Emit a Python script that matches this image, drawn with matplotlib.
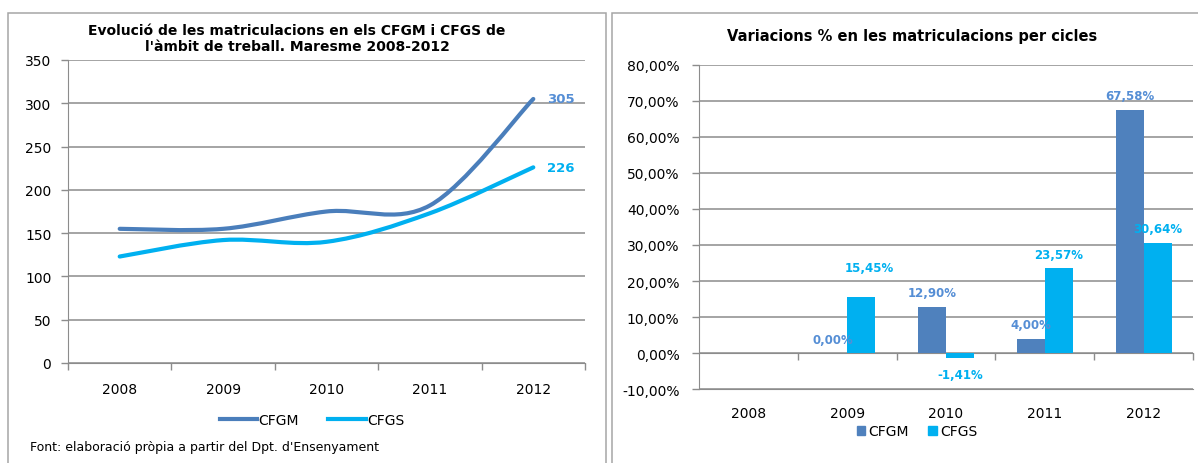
import numpy as np
import matplotlib
matplotlib.use("Agg")
import matplotlib.pyplot as plt
from matplotlib.path import Path
from matplotlib.patches import PathPatch, Rectangle, Patch
from matplotlib.lines import Line2D

plt.rcParams['font.family'] = ['DejaVu Sans']

# data
years = ['2008', '2009', '2010', '2011', '2012']
cfgm = [155, 155, 175, 182, 305]
cfgs = [123, 142, 140, 173, 226]
cfgm_var = [np.nan, 0.00, 12.90, 4.00, 67.58]
cfgs_var = [np.nan, 15.45, -1.41, 23.57, 30.64]

title_left = "Evolució de les matriculacions en els CFGM i CFGS de\nl'àmbit de treball. Maresme 2008-2012"
title_right = "Variacions % en les matriculacions per cicles"
source = "Font: elaboració pròpia a partir del Dpt. d'Ensenyament"

C_GM = '#4A7EBB'
C_GS = '#00B0F0'
C_GM_LBL = '#558ED5'
GRID = '#8C8C8C'
W, H = 1198, 464


def fx(px):
    return px / W


def fy(py):
    return 1 - py / H


def smooth_path(xs, ys):
    # excel style smoothed line: bezier through the points
    pts = np.column_stack([xs, ys]).astype(float)
    ext = np.vstack([pts[0], pts, pts[-1]])
    verts = [pts[0]]
    codes = [Path.MOVETO]
    for i in range(len(pts) - 1):
        p0, p1, p2, p3 = ext[i], ext[i + 1], ext[i + 2], ext[i + 3]
        verts += [p1 + (p2 - p0) / 6, p2 - (p3 - p1) / 6, p2]
        codes += [Path.CURVE4] * 3
    return Path(verts, codes)


fig = plt.figure(figsize=(W / 100, H / 100), dpi=100)

# panel frames
for x0, x1 in [(8, 606), (612, 1210)]:
    fig.patches.append(Rectangle((fx(x0), fy(480)), fx(x1 - x0), (480 - 14) / H,
                                 transform=fig.transFigure, fill=False,
                                 edgecolor='#A6A6A6', lw=1.1))

# ---- left: line chart
ax1 = fig.add_axes([fx(68), fy(364), fx(585 - 68), (364 - 61) / H])
x = np.arange(len(years))
for vals, col, lc in [(cfgm, C_GM, C_GM_LBL), (cfgs, C_GS, C_GS)]:
    ax1.add_patch(PathPatch(smooth_path(x, vals), fill=False, edgecolor=col,
                            lw=3, capstyle='round', zorder=3))
    ax1.annotate(str(vals[-1]), (x[-1], vals[-1]), xytext=(10, 0),
                 textcoords='offset points', ha='left', va='center',
                 fontsize=9.5, fontweight='bold', color=lc)

ax1.set_xlim(-0.5, len(years) - 0.5)
ax1.set_ylim(0, 350)
ax1.set_yticks(np.arange(0, 351, 50))
ax1.set_xticks(x)
ax1.set_xticklabels(years)
ax1.set_xticks(np.arange(-0.5, len(years), 1), minor=True)
ax1.tick_params(axis='x', which='major', length=0, pad=14, labelsize=10)
ax1.tick_params(axis='x', which='minor', length=5, color=GRID, width=1)
ax1.tick_params(axis='y', length=5, color=GRID, width=1, pad=7, labelsize=10)
ax1.yaxis.grid(True, color=GRID, lw=1.1)
ax1.set_axisbelow(True)
for s in ['top', 'right']:
    ax1.spines[s].set_visible(False)
for s in ['left', 'bottom']:
    ax1.spines[s].set_color(GRID)

h1 = [Line2D([], [], color=C_GM, lw=3), Line2D([], [], color=C_GS, lw=3)]
fig.legend(h1, ['CFGM', 'CFGS'], loc='center', bbox_to_anchor=(fx(312), fy(421)),
           ncol=2, frameon=False, fontsize=10, handlelength=2.7,
           handletextpad=0.1, columnspacing=2.1)

fig.text(fx(297), fy(39), title_left, ha='center', va='center', fontsize=10,
         fontweight='bold', linespacing=1.2)
fig.text(fx(30), fy(448), source, ha='left', va='center', fontsize=9)

# ---- right: bar chart
ax2 = fig.add_axes([fx(699), fy(390), fx(1193 - 699), (390 - 66) / H])
bw = 0.283
gm = np.array(cfgm_var)
gs = np.array(cfgs_var)
ok = ~np.isnan(gm)
ax2.bar(x[ok] - bw / 2, gm[ok], bw, color='#4F81BD', zorder=3)
ax2.bar(x[ok] + bw / 2, gs[ok], bw, color=C_GS, zorder=3)

gm_off = [None, (0, 10), (0, 10), (0, 10), (0, 10.5)]
gs_off = [None, (6, 21.5), (0, -12), (0, 10), (0, 10)]


def pct(v):
    return f"{v:.2f}".replace('.', ',') + '%'


for i in x[ok]:
    ax2.annotate(pct(gm[i]), (i - bw / 2, gm[i]), xytext=gm_off[i],
                 textcoords='offset points', ha='center', va='center',
                 fontsize=8.5, fontweight='bold', color=C_GM_LBL, zorder=4)
    ax2.annotate(pct(gs[i]), (i + bw / 2, gs[i]),
                 xytext=gs_off[i], textcoords='offset points', ha='center',
                 va='center', fontsize=8.5, fontweight='bold', color=C_GS, zorder=4)

ax2.set_xlim(-0.5, len(years) - 0.5)
ax2.set_ylim(-10, 80)
yt = np.arange(-10, 81, 10)
ax2.set_yticks(yt)
ax2.set_yticklabels([pct(v) for v in yt])
ax2.set_xticks(x)
ax2.set_xticklabels(years)
ax2.tick_params(axis='x', length=0, pad=12, labelsize=10)
ax2.tick_params(axis='y', length=5, color=GRID, width=1, pad=9, labelsize=10)
ax2.yaxis.grid(True, color=GRID, lw=1.1)
ax2.set_axisbelow(True)
for s in ['top', 'right']:
    ax2.spines[s].set_visible(False)
for s in ['left', 'bottom']:
    ax2.spines[s].set_color(GRID)

sec = ax2.secondary_xaxis(10 / 90)
sec.set_xticks(np.arange(0.5, len(years), 1))
sec.set_xticklabels([])
sec.tick_params(axis='x', length=5, color=GRID, width=1)
sec.spines['bottom'].set_color(GRID)

h2 = [Patch(color='#4F81BD'), Patch(color=C_GS)]
fig.legend(h2, ['CFGM', 'CFGS'], loc='center', bbox_to_anchor=(fx(917), fy(432)),
           ncol=2, frameon=False, fontsize=10, handlelength=0.6, handleheight=0.6,
           handletextpad=0.25, columnspacing=1.4)

fig.text(fx(912), fy(36), title_right, ha='center', va='center', fontsize=10.5,
         fontweight='bold')

fig.savefig('out.png', dpi=100)
